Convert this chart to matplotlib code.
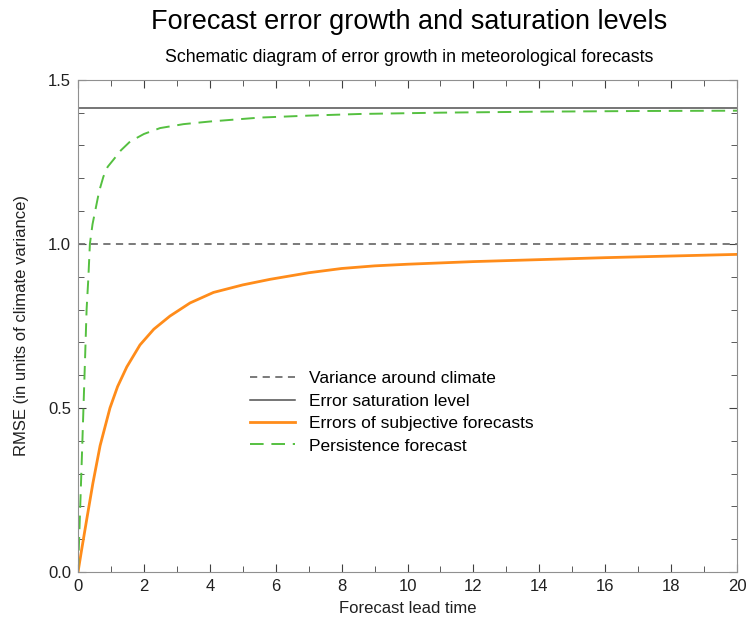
import numpy as np
import matplotlib
matplotlib.use("Agg")
import matplotlib.pyplot as plt
from matplotlib.ticker import MultipleLocator, FormatStrFormatter

plt.rcParams["font.family"] = ["Liberation Sans", "DejaVu Sans"]

# values
lead_time = [0, 0.1, 0.26, 0.45, 0.67, 0.97, 1.2, 1.48, 1.88, 2.3, 2.79, 3.4, 4.11, 5.0, 5.83, 7, 8, 9, 10, 12, 14, 16, 18, 20]
subjective = [0, 0.062, 0.158, 0.27, 0.385, 0.50, 0.565, 0.625, 0.692, 0.74, 0.78, 0.82, 0.852, 0.875, 0.892, 0.912, 0.925, 0.933, 0.938, 0.946, 0.952, 0.958, 0.963, 0.968]

persist_time = [0, 0.11, 0.21, 0.26, 0.31, 0.36, 0.44, 0.52, 0.64, 0.77, 0.9, 1.07, 1.3, 1.58, 2.0, 2.49, 3.2, 4.0, 5.52, 7, 8.56, 11, 14, 17, 20]
persistence = [0, 0.33, 0.64, 0.80, 0.89, 1.0, 1.06, 1.10, 1.16, 1.205, 1.235, 1.256, 1.285, 1.312, 1.335, 1.353, 1.365, 1.373, 1.385, 1.391, 1.396, 1.400, 1.403, 1.405, 1.406]

climate_var = 1.0
saturation = np.sqrt(2)

fig = plt.figure(figsize=(7.46, 6.19), dpi=100)
ax = fig.add_axes([0.1046, 0.076, 0.8834, 0.795])

ax.axhline(climate_var, color="#707070", ls=(0, (4, 3)), lw=1.3, label="Variance around climate")
ax.axhline(saturation, color="#505050", lw=1.1, label="Error saturation level")
ax.plot(lead_time, subjective, color="#ff8c1a", lw=2.0, label="Errors of subjective forecasts")
ax.plot(persist_time, persistence, color="#55c040", lw=1.4, ls=(0, (7, 4)), label="Persistence forecast")

ax.set_xlim(0, 20)
ax.set_ylim(0, 1.5)
ax.xaxis.set_major_locator(MultipleLocator(2))
ax.xaxis.set_minor_locator(MultipleLocator(1))
ax.yaxis.set_major_locator(MultipleLocator(0.5))
ax.yaxis.set_minor_locator(MultipleLocator(0.1))
ax.yaxis.set_major_formatter(FormatStrFormatter("%.1f"))
ax.tick_params(which="both", direction="in", top=True, right=True, colors="#404040",
               labelcolor="#202020", labelsize=12, pad=5)
ax.tick_params(which="major", length=6)
ax.tick_params(which="minor", length=4)
for s in ax.spines.values():
    s.set_color("#909090")

ax.set_xlabel("Forecast lead time", fontsize=12, color="#202020", labelpad=5)
ax.set_ylabel("RMSE (in units of climate variance)", fontsize=12, color="#202020", labelpad=14)

fig.text(0.548, 0.965, "Forecast error growth and saturation levels", ha="center", va="center", fontsize=19.5)
fig.text(0.548, 0.907, "Schematic diagram of error growth in meteorological forecasts", ha="center", va="center", fontsize=12.8)

ax.legend(loc="upper left", bbox_to_anchor=(0.237, 0.44), frameon=False, fontsize=12.5,
          handlelength=2.6, labelspacing=0.42, handletextpad=0.8)

fig.savefig("out.png", dpi=100)
